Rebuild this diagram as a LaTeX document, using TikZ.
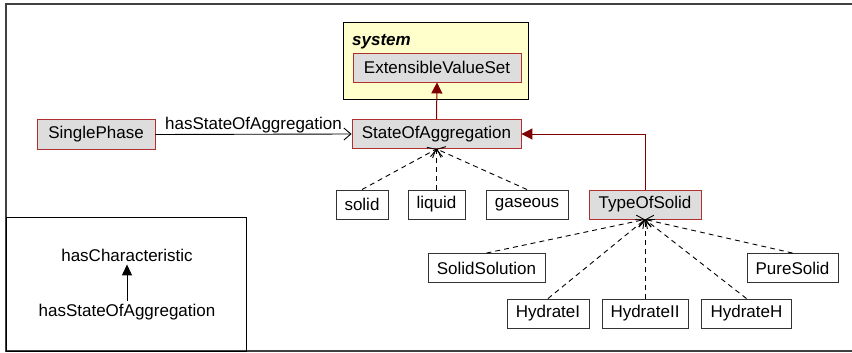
\documentclass[tikz,border=0pt]{standalone}
\usepackage{fontspec}
\setmainfont{Liberation Sans}
\usetikzlibrary{arrows.meta}
\definecolor{clsred}{RGB}{176,48,48}
\definecolor{clsgray}{RGB}{221,221,221}
\definecolor{arrred}{RGB}{128,0,0}
\definecolor{pkgyellow}{RGB}{255,255,204}
\definecolor{framegray}{RGB}{64,64,64}
\tikzset{
  txt/.style={font=\fontsize{17}{20}\selectfont},
  clsbox/.style={txt, draw=clsred, fill=clsgray, line width=0.9pt, minimum height=29pt, inner sep=0pt},
  instbox/.style={txt, draw=black!80, fill=white, line width=0.9pt, minimum height=29pt, inner sep=0pt},
  gen/.style={draw=arrred, line width=1pt, -{Triangle[length=11pt,width=11pt]}},
  realize/.style={draw=black, line width=0.9pt, dash pattern=on 5pt off 4pt, -{Straight Barb[length=7pt,width=12pt]}},
  assoc/.style={draw=black, line width=0.9pt, -{Straight Barb[length=7pt,width=12pt]}},
  legarrow/.style={draw=black, line width=1pt, -{Triangle[length=11pt,width=10pt]}}
}
\begin{document}
\begin{tikzpicture}[x=1pt,y=-1pt]
\useasboundingbox (0,0) rectangle (852,353);
% outer frame
\draw[framegray, line width=1.5pt] (852,4) -- (6,4) -- (6,351) -- (852,351);
% legend box
\draw[black, line width=1pt] (6,217.5) rectangle (246,351);
% system package
\draw[black, line width=1pt, fill=pkgyellow] (343,23) rectangle (528,100);
\node[txt, anchor=base west, inner sep=0pt, font=\fontsize{17}{20}\selectfont\bfseries\itshape] (sys) at (352,46) {system};
\node[clsbox, minimum width=168pt] (evs) at (437,67.5) {ExtensibleValueSet};
% classes
\node[clsbox, minimum width=169pt] (soa) at (436.5,134) {StateOfAggregation};
\node[clsbox, minimum width=118pt, minimum height=30pt] (sp) at (96,134.5) {SinglePhase};
\node[clsbox, minimum width=112pt] (tos) at (645,204.5) {TypeOfSolid};
% instances of StateOfAggregation
\node[instbox, minimum width=52pt] (solid) at (362,204.5) {solid};
\node[instbox, minimum width=57pt] (liquid) at (436.5,204.5) {liquid};
\node[instbox, minimum width=82pt] (gaseous) at (527,204.5) {gaseous};
% instances of TypeOfSolid
\node[instbox, minimum width=117pt] (solsol) at (486.5,268) {SolidSolution};
\node[instbox, minimum width=91pt] (pure) at (792.5,268) {PureSolid};
\node[instbox, minimum width=82pt] (h1) at (548,313.5) {HydrateI};
\node[instbox, minimum width=86pt] (h2) at (645,313.5) {HydrateII};
\node[instbox, minimum width=90pt] (hh) at (746.5,313.5) {HydrateH};
% connectors
\draw[gen] (soa.north) -- (evs.south);
\draw[gen] (tos.north) |- (soa.east);
\draw[assoc] (sp.east) -- node[txt, midway, above, inner sep=1pt] {hasStateOfAggregation} (soa.west);
\foreach \n in {solid,liquid,gaseous}
  \draw[realize] (\n.north) -- (soa.south);
\foreach \n in {solsol,pure,h1,h2,hh}
  \draw[realize] (\n.north) -- (tos.south);
% legend
\node[txt, inner sep=3pt] (lt) at (127,255) {hasCharacteristic};
\node[txt, inner sep=3pt] (lb) at (127,312) {hasStateOfAggregation};
\draw[legarrow] (lb.north) -- (lt.south);
\end{tikzpicture}
\end{document}
